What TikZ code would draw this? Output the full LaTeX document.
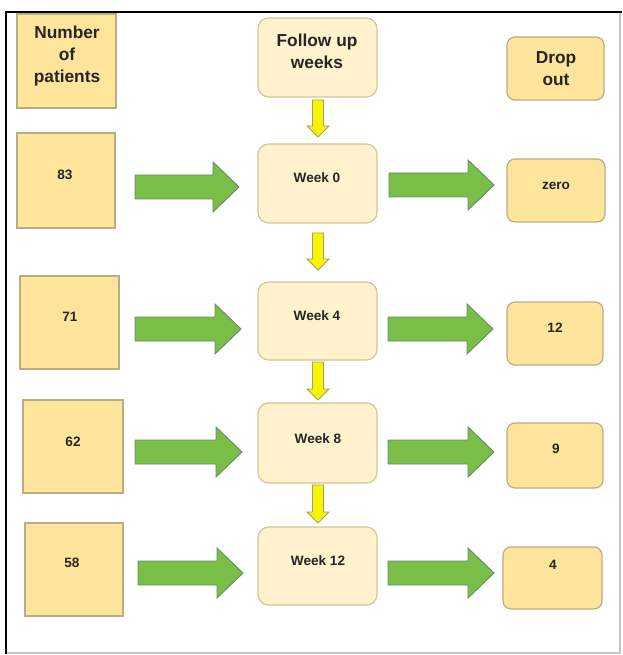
\documentclass[tikz,border=0pt]{standalone}
\usepackage{fontspec}
\setmainfont{Liberation Sans}
\begin{document}
\begin{tikzpicture}[x=0.75pt,y=-0.75pt]
\definecolor{numfill}{HTML}{FFE49C}
\definecolor{numedge}{HTML}{B9AD86}
\definecolor{wkfill}{HTML}{FFF2CC}
\definecolor{wkedge}{HTML}{D3C596}
\definecolor{gfill}{HTML}{79BE47}
\definecolor{gedge}{HTML}{6B8A6E}
\definecolor{yfill}{HTML}{F8F400}
\definecolor{yedge}{HTML}{A49F6E}
\tikzset{
  numbox/.style={draw=numedge, fill=numfill, line width=0.9pt, inner sep=0pt},
  dropbox/.style={numbox, rounded corners=6pt},
  weekbox/.style={draw=wkedge, fill=wkfill, line width=0.9pt, rounded corners=8pt, inner sep=0pt},
  headtxt/.style={font=\fontsize{13pt}{16.5pt}\selectfont\bfseries, text=black!85, align=center, inner sep=0pt},
  smalltxt/.style={font=\fontsize{10.2pt}{12pt}\selectfont\bfseries, text=black!85, inner sep=0pt},
  garr/.style={draw=gedge, fill=gfill, line width=0.7pt, line join=miter},
  yarr/.style={draw=yedge, fill=yfill, line width=0.6pt, line join=miter}
}
% box macro: name, x1, y1, x2, y2, style
\newcommand\mkbox[6]{\node[#6, minimum width={(#4-#2)*0.75pt}, minimum height={(#5-#3)*0.75pt}] (#1) at ({(#2+#4)/2},{(#3+#5)/2}) {};}
% green block arrow: x1, x2 (tip), cy
\newcommand\grarrow[3]{\draw[garr] ({#1},{#3-12}) -- ({#2-26},{#3-12}) -- ({#2-26},{#3-25}) -- ({#2},{#3}) -- ({#2-26},{#3+25}) -- ({#2-26},{#3+12}) -- ({#1},{#3+12}) -- cycle;}
% yellow down arrow: cx, y1, y2 (tip)
\newcommand\ylarrow[3]{\draw[yarr] ({#1-5.5},{#2}) -- ({#1-5.5},{#3-11}) -- ({#1-11},{#3-11}) -- ({#1},{#3}) -- ({#1+11},{#3-11}) -- ({#1+5.5},{#3-11}) -- ({#1+5.5},{#2}) -- cycle;}

\useasboundingbox (0,0) rectangle (622,655);
\fill[white] (0,0) rectangle (622,655);

% frame
\draw[gray!45, line width=1.6pt] (6,653) -- (620,653) -- (620,12);
\draw[black, line width=1.2pt] (622,12) -- (6,12) -- (6,654);

% left column
\mkbox{hnum}{17}{14}{116}{108}{numbox}
\mkbox{n83}{17}{133}{115}{228}{numbox}
\mkbox{n71}{20}{276}{119}{369}{numbox}
\mkbox{n62}{23}{400}{123}{493}{numbox}
\mkbox{n58}{25}{523}{123}{616}{numbox}

% middle column
\mkbox{hweek}{258}{18}{377}{97}{weekbox}
\mkbox{w0}{258}{144}{377}{223}{weekbox}
\mkbox{w4}{258}{282}{377}{360}{weekbox}
\mkbox{w8}{258}{403}{377}{483}{weekbox}
\mkbox{w12}{258}{527}{377}{605}{weekbox}

% right column
\mkbox{hdrop}{507}{37}{604}{100}{dropbox}
\mkbox{d0}{507}{159}{605}{222}{dropbox}
\mkbox{d4}{507}{302}{603}{365}{dropbox}
\mkbox{d8}{507}{423}{603}{488}{dropbox}
\mkbox{d12}{503}{547}{602}{609}{dropbox}

% texts
\node[headtxt] (thnum) at (67,56) {Number\\of\\patients};
\node[headtxt] (thweek) at (317,51) {Follow up\\weeks};
\node[headtxt] (thdrop) at (556,69) {Drop\\out};

\node[smalltxt] (t83) at (65,175) {83};
\node[smalltxt] (t71) at (70,317) {71};
\node[smalltxt] (t62) at (73,442) {62};
\node[smalltxt] (t58) at (72,563) {58};

\node[smalltxt] (tw0) at (317,178) {Week 0};
\node[smalltxt] (tw4) at (317,316) {Week 4};
\node[smalltxt] (tw8) at (318,439) {Week 8};
\node[smalltxt] (tw12) at (318,561) {Week 12};

\node[smalltxt] (td0) at (556,186) {zero};
\node[smalltxt] (td4) at (555,328) {12};
\node[smalltxt] (td8) at (556,449) {9};
\node[smalltxt] (td12) at (553,565) {4};

% green arrows
\grarrow{135}{239}{187}
\grarrow{389}{494}{185}
\grarrow{135}{241}{329}
\grarrow{388}{493}{329}
\grarrow{135}{242}{452}
\grarrow{388}{494}{452}
\grarrow{138}{243}{573}
\grarrow{388}{494}{573}

% yellow arrows
\ylarrow{318}{100}{137}
\ylarrow{318}{233}{270}
\ylarrow{318}{362}{400}
\ylarrow{318}{485}{523}
\end{tikzpicture}
\end{document}
